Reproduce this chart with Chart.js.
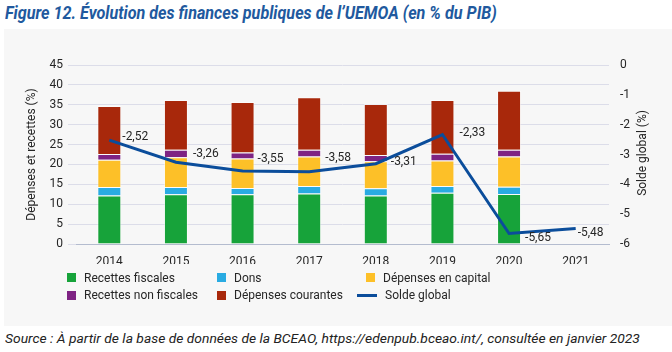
<!DOCTYPE html>
<html>
<head>
<meta charset="utf-8">
<script src="https://cdn.jsdelivr.net/npm/chart.js@4.4.1/dist/chart.umd.min.js"></script>
<style>
  body { margin: 0; width: 672px; height: 352px; background: #fff; position: relative; overflow: hidden; font-family: Roboto, sans-serif; }
  #titre { position: absolute; left: 5px; top: 2px; font: italic bold 18px Roboto; color: #21599e; white-space: nowrap; transform-origin: 0 0; }
  #panneau { position: absolute; left: 4px; top: 29px; width: 668px; height: 297px; background: #f7f7f7; }
  #zone { position: absolute; left: 0; top: 29px; width: 672px; height: 297px; }
  #titreDroite { position: absolute; left: 592px; top: 146px; width: 100px; height: 14px; line-height: 14px; text-align: center; font: 12px Roboto; color: #262626; transform: rotate(-90deg); white-space: nowrap; }
  #source { position: absolute; left: 5px; top: 330px; font: italic 13.5px Roboto; color: #222; white-space: nowrap; transform-origin: 0 0; }
  .leg { position: absolute; font: 12px Roboto; color: #262626; white-space: nowrap; height: 14px; line-height: 14px; }
  .leg span { display: inline-block; vertical-align: middle; }
</style>
</head>
<body>
<div id="titre">Figure 12. Évolution des finances publiques de l’UEMOA (en % du PIB)</div>
<div id="panneau"></div>
<div id="zone"><canvas id="graphique"></canvas></div>
<div id="titreDroite">Solde global (%)</div>
<div id="legende"></div>
<div id="source">Source : À partir de la base de données de la BCEAO, https://edenpub.bceao.int/, consultée en janvier 2023</div>
<script>
const annees = ["2014", "2015", "2016", "2017", "2018", "2019", "2020", "2021"];
const recettesFiscales = [12.2, 12.5, 12.5, 12.7, 12.2, 12.9, 12.6, null];
const dons = [2.1, 1.8, 1.6, 1.9, 1.8, 1.7, 1.8, null];
const depensesCapital = [6.9, 7.5, 7.4, 7.4, 6.8, 6.4, 7.6, null];
const recettesNonFiscales = [1.4, 1.9, 1.5, 1.7, 1.6, 1.7, 1.7, null];
const depensesCourantes = [12.1, 12.5, 12.7, 13.2, 12.8, 13.5, 14.8, null];
const soldeGlobal = [-2.52, -3.26, -3.55, -3.58, -3.31, -2.33, -5.65, -5.48];

const couleurTexte = "#262626";
Chart.defaults.font.family = "Roboto";
Chart.defaults.font.size = 12;
Chart.defaults.color = couleurTexte;

// etiquettes de la courbe, decalees a la main comme dans l'original
const etiquettesSolde = {
  id: "etiquettesSolde",
  afterDatasetsDraw(chart, args, opts) {
    const idx = chart.data.datasets.findIndex(d => d.type === "line");
    const meta = chart.getDatasetMeta(idx);
    const ctx = chart.ctx;
    ctx.save();
    ctx.font = "12px Roboto";
    ctx.fillStyle = couleurTexte;
    ctx.textBaseline = "middle";
    meta.data.forEach((pt, i) => {
      const v = chart.data.datasets[idx].data[i];
      const d = opts.decalages[i];
      ctx.fillText(v.toFixed(2).replace(".", ","), pt.x + d[0], pt.y + d[1]);
    });
    ctx.restore();
  }
};

const barre = (label, data, couleur) => ({
  type: "bar", label, data, backgroundColor: couleur,
  borderColor: "rgba(255,255,255,0.5)", borderWidth: 1,
  yAxisID: "y", order: 1, stack: "s"
});

const chart = new Chart(document.getElementById("graphique"), {
  data: {
    labels: annees,
    datasets: [
      barre("Recettes fiscales", recettesFiscales, "#17a33a"),
      barre("Dons", dons, "#29abe2"),
      barre("Dépenses en capital", depensesCapital, "#fdc028"),
      barre("Recettes non fiscales", recettesNonFiscales, "#7e2383"),
      barre("Dépenses courantes", depensesCourantes, "#a8280b"),
      {
        type: "line", label: "Solde global", data: soldeGlobal,
        borderColor: "#0b4d9b", backgroundColor: "#0b4d9b", borderWidth: 3,
        pointRadius: 0, tension: 0, yAxisID: "y1", order: 0
      }
    ]
  },
  options: {
    responsive: true,
    maintainAspectRatio: false,
    animation: false,
    layout: { padding: { left: 21, right: 0, top: 36, bottom: 62 } },
    datasets: { bar: { categoryPercentage: 1, barPercentage: 0.36 } },
    plugins: {
      legend: { display: false },
      tooltip: { enabled: false },
      etiquettesSolde: {
        decalages: [[13, -3], [17, -8], [15, -12], [16, -14], [15, -2], [17, -2], [16, 4], [2, 5]]
      }
    },
    scales: {
      x: {
        stacked: true,
        grid: { display: false },
        border: { display: true, color: "#b4bccf" },
        ticks: { padding: 3, color: couleurTexte },
        afterFit: s => { s.height = 20; }
      },
      y: {
        position: "left", stacked: true, min: 0, max: 45,
        ticks: { stepSize: 5, padding: 5, color: couleurTexte },
        grid: { color: "#dcdde9", tickLength: 8 },
        border: { display: false },
        title: { display: true, text: "Dépenses et recettes (%)", color: couleurTexte, padding: { top: 4, bottom: 0 } },
        afterFit: s => { s.width = 55; }
      },
      y1: {
        position: "right", min: -6, max: 0,
        ticks: { stepSize: 1, padding: 3, color: couleurTexte },
        grid: { display: false },
        border: { display: false },
        afterFit: s => { s.width = 63; }
      }
    }
  },
  plugins: [etiquettesSolde]
});

// legende en trois colonnes, construite depuis les jeux de donnees
const legende = document.getElementById("legende");
const colonnes = [67, 217, 366];
chart.data.datasets.forEach((ds, i) => {
  const el = document.createElement("div");
  el.className = "leg";
  const ligne = i % 3, rang = Math.floor(i / 3);
  el.style.top = (270 + rang * 17.4) + "px";
  const symbole = document.createElement("span");
  if (ds.type === "line") {
    el.style.left = (colonnes[ligne] - 9) + "px";
    symbole.style.cssText = "width:20px;height:3px;margin-right:8px;background:" + ds.borderColor;
  } else {
    el.style.left = colonnes[ligne] + "px";
    symbole.style.cssText = "width:9px;height:9px;margin-right:8px;background:" + ds.backgroundColor;
  }
  const texte = document.createElement("span");
  texte.textContent = ds.label;
  el.appendChild(symbole);
  el.appendChild(texte);
  legende.appendChild(el);
});

function ajuster(id, largeur) {
  const el = document.getElementById(id);
  el.style.transform = "scaleX(" + (largeur / el.offsetWidth) + ")";
}
ajuster("titre", 492);
ajuster("source", 635);
</script>
</body>
</html>
